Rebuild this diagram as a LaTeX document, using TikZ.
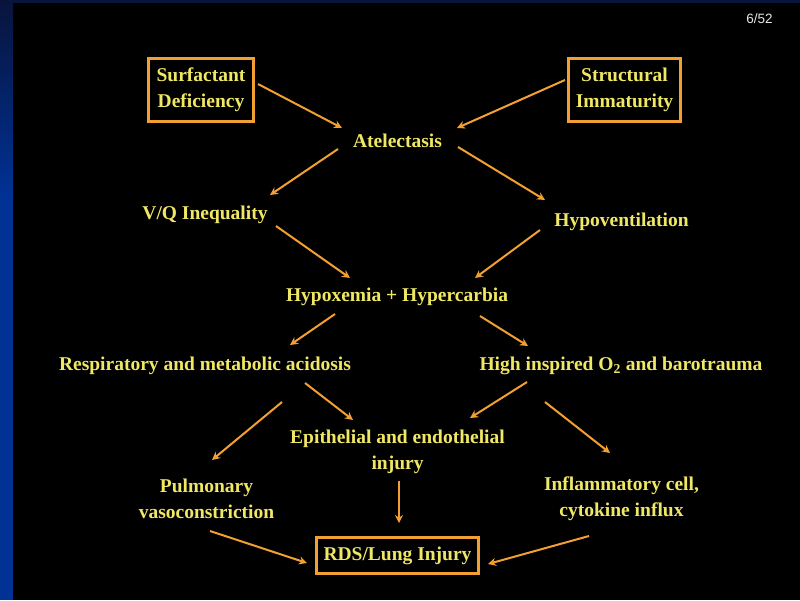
\documentclass[tikz,border=0pt]{standalone}
\usepackage{fontspec}
\setmainfont{Liberation Serif}
\setsansfont{Liberation Sans}
\usetikzlibrary{arrows.meta,calc}
\definecolor{txt}{RGB}{240,232,100}
\definecolor{org}{RGB}{242,160,50}
\definecolor{navyA}{RGB}{8,20,60}
\definecolor{blueB}{RGB}{0,50,150}
\begin{document}
\begin{tikzpicture}[x=1pt,y=-1pt,
  lbl/.style={text=txt,font=\fontsize{19.5}{26}\selectfont\bfseries,align=center,inner sep=0pt},
  boxed/.style={lbl,draw=org,line width=3pt},
  arr/.style={draw=org,line width=2pt,-{Stealth[length=8pt,width=8pt]}}]
% background
\fill[black] (0,0) rectangle (800,600);
\shade[top color=navyA,bottom color=blueB] (0,0) rectangle (13,200);
\fill[blueB] (0,200) rectangle (13,600);
\fill[navyA] (0,0) rectangle (800,3);
\node[text={rgb,255:red,230;green,230;blue,230},font=\sffamily\fontsize{13.5}{13.5}\selectfont,inner sep=0pt] (pg) at (759.5,18.5) {6/52};
% nodes
\node[boxed,minimum width=105pt,minimum height=63pt] (sd) at (201,90) {Surfactant\\Deficiency};
\node[boxed,minimum width=112pt,minimum height=63pt] (si) at (624.5,90) {Structural\\Immaturity};
\node[lbl] (atel) at (397.5,140.5) {Atelectasis};
\node[lbl] (vq) at (205,215) {V/Q Inequality};
\node[lbl] (hv) at (621.5,222) {Hypoventilation};
\node[lbl] (hx) at (397,297) {Hypoxemia + Hypercarbia};
\node[lbl] (ra) at (205,366) {Respiratory and metabolic acidosis};
\node[lbl] (hi) at (621,366) {High inspired O\textsubscript{2} and barotrauma};
\node[lbl] (ep) at (397.5,452) {Epithelial and endothelial\\injury};
\node[lbl] (pv) at (206.5,499) {Pulmonary\\vasoconstriction};
\node[lbl] (ic) at (621.5,499) {Inflammatory cell,\\cytokine influx};
\node[boxed,minimum width=162pt,minimum height=36pt] (rds) at (397.5,555.5) {RDS/Lung Injury};
% arrows
\draw[arr] ($(sd)+(57,-6)$) -- ($(atel)+(-55.5,-12.5)$);
\draw[arr] ($(si)+(-59.5,-10)$) -- ($(atel)+(59.5,-12.5)$);
\draw[arr] ($(atel)+(-59.5,8.5)$) -- ($(vq)+(65,-20)$);
\draw[arr] ($(atel)+(60.5,6.5)$) -- ($(hv)+(-76.5,-22)$);
\draw[arr] ($(vq)+(71,11)$) -- ($(hx)+(-47,-19)$);
\draw[arr] ($(hv)+(-81.5,8)$) -- ($(hx)+(78,-19)$);
\draw[arr] ($(hx)+(-62,17)$) -- ($(ra)+(85,-21)$);
\draw[arr] ($(hx)+(83,19)$) -- ($(hi)+(-93,-20)$);
\draw[arr] ($(ra)+(77,36)$) -- ($(pv)+(5.5,-39)$);
\draw[arr] ($(ra)+(100,17)$) -- ($(ep)+(-44.5,-32)$);
\draw[arr] ($(hi)+(-94,16)$) -- ($(ep)+(72.5,-34)$);
\draw[arr] ($(hi)+(-76,36)$) -- ($(ic)+(-11.5,-46)$);
\draw[arr] ($(ep)+(1.5,29)$) -- ($(rds)+(1.5,-32.5)$);
\draw[arr] ($(pv)+(3.5,32)$) -- ($(rds)+(-90.5,7.5)$);
\draw[arr] ($(ic)+(-32.5,37)$) -- ($(rds)+(90.5,8.5)$);
\end{tikzpicture}
\end{document}
